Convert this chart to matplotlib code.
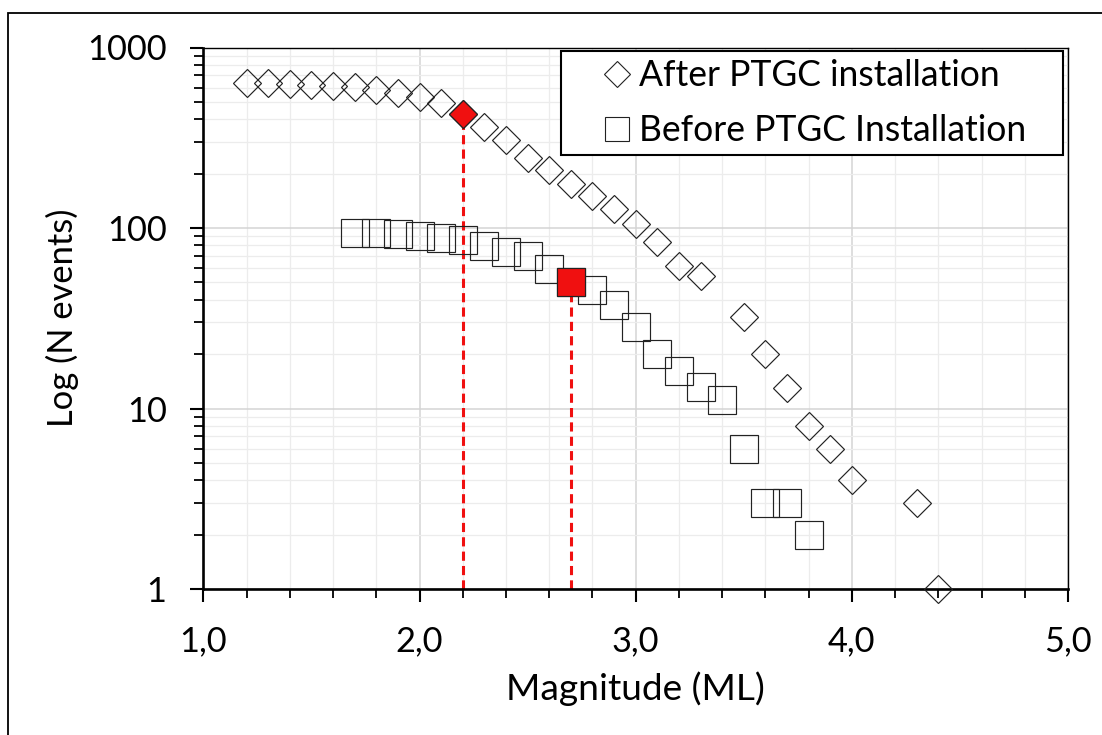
import matplotlib
matplotlib.use("Agg")
import matplotlib.pyplot as plt
from matplotlib.lines import Line2D
from matplotlib.patches import Rectangle
from matplotlib.ticker import MultipleLocator, LogLocator, FuncFormatter, NullFormatter, FixedLocator
from matplotlib.textpath import TextPath
from matplotlib.font_manager import FontProperties

# ---------------- data ----------------
after_mag = [1.2, 1.3, 1.4, 1.5, 1.6, 1.7, 1.8, 1.9, 2.0, 2.1, 2.2, 2.3, 2.4, 2.5,
             2.6, 2.7, 2.8, 2.9, 3.0, 3.1, 3.2, 3.3, 3.5, 3.6, 3.7, 3.8, 3.9, 4.0,
             4.3, 4.4]
after_n = [635, 632, 627, 621, 613, 601, 583, 563, 533, 490, 430, 365, 306, 245,
           210, 175, 150, 127, 105, 84, 61.5, 54, 32, 20, 13, 8, 6, 4,
           3, 1]

before_mag = [1.7, 1.8, 1.9, 2.0, 2.1, 2.2, 2.3, 2.4, 2.5, 2.6, 2.7, 2.8, 2.9,
              3.0, 3.1, 3.2, 3.3, 3.4, 3.5, 3.6, 3.7, 3.8]
before_n = [93.3, 93.3, 92.9, 90.4, 87.9, 85.7, 79.8, 73.7, 69.7, 59.5, 50.5,
            45.3, 37.3, 28.3, 20, 16.1, 13.1, 11.1, 6, 3, 3, 2]

after_highlight = 2.2     # magnitude of highlighted (red) point, after
before_highlight = 2.7    # magnitude of highlighted (red) point, before

legend_labels = ["After PTGC installation", "Before PTGC Installation"]
x_label = "Magnitude (ML)"
y_label = "Log (N events)"
y_ticks = [1, 10, 100, 1000]

# ---------------- helpers ----------------
FAMILY = "Lato"
def fit(s, px):
    tp = TextPath((0, 0), s, size=100, prop=FontProperties(family=FAMILY))
    w = tp.get_extents().width
    return 100 * px * 0.72 / w

plt.rcParams['font.family'] = [FAMILY, 'DejaVu Sans']
fs_tick = fit("1000", 76)
fs_leg = fit(legend_labels[1], 382)
fs_xlab = fit(x_label, 254)
fs_ylab = fit(y_label, 214)

W, H = 1102, 735
fig = plt.figure(figsize=(W / 100, H / 100), dpi=100)
ax = fig.add_axes([203.4 / W, 1 - 589 / H, (1068 - 203.4) / W, (589 - 47.5) / H])

# figure border (left + top visible)
fig.patches.append(Rectangle((8 / W, -0.1), 1.2, 1 - 13 / H + 0.1,
                             transform=fig.transFigure, fill=False,
                             lw=1.3, edgecolor='black', zorder=0))

ax.set_xlim(1.0, 5.0)
ax.set_yscale('log')
ax.set_ylim(1, 1000)

edge = '#222222'
red = '#f01010'

ax.plot(after_mag, after_n, linestyle='none', marker='D', markersize=14.3,
        markerfacecolor='none', markeredgecolor=edge, markeredgewidth=0.85,
        clip_on=False, zorder=3)
ax.plot(before_mag, before_n, linestyle='none', marker='s', markersize=20.6,
        markerfacecolor='none', markeredgecolor=edge, markeredgewidth=0.85,
        clip_on=False, zorder=3)

ia = after_mag.index(after_highlight)
ib = before_mag.index(before_highlight)
ax.vlines([after_mag[ia], before_mag[ib]], 1, [after_n[ia], before_n[ib]],
          colors=red, linewidth=2.2, linestyles=[(0, (3.0, 1.7))], zorder=2.5)
ax.plot([after_mag[ia]], [after_n[ia]], linestyle='none', marker='D',
        markersize=14.3, markerfacecolor=red, markeredgecolor=edge,
        markeredgewidth=0.85, zorder=4)
ax.plot([before_mag[ib]], [before_n[ib]], linestyle='none', marker='s',
        markersize=20.6, markerfacecolor=red, markeredgecolor=edge,
        markeredgewidth=0.85, zorder=4)

# axes / ticks
ax.xaxis.set_major_locator(MultipleLocator(1.0))
ax.xaxis.set_minor_locator(MultipleLocator(0.2))
ax.xaxis.set_major_formatter(FuncFormatter(lambda v, p: f"{v:.1f}".replace('.', ',')))
ax.yaxis.set_major_locator(FixedLocator(y_ticks))
ax.yaxis.set_minor_locator(LogLocator(base=10, subs=range(2, 10)))
ax.yaxis.set_major_formatter(FuncFormatter(lambda v, p: f"{int(round(v))}"))
ax.yaxis.set_minor_formatter(NullFormatter())

ax.tick_params(which='major', direction='out', length=9.4, width=1.5,
               pad=17, labelsize=fs_tick, colors='black')
ax.tick_params(which='minor', direction='out', length=6.5, width=1.3)

ax.grid(which='major', color='#d4d4d4', linewidth=1.1)
ax.grid(which='minor', color='#ececec', linewidth=0.9)
ax.set_axisbelow(True)

for s in ['left', 'bottom']:
    ax.spines[s].set_linewidth(1.9)
for s in ['top', 'right']:
    ax.spines[s].set_linewidth(1.0)

ax.set_xlabel(x_label, fontsize=fs_xlab, labelpad=10)
ax.set_ylabel(y_label, fontsize=fs_ylab, labelpad=6)

# legend
handles = [
    Line2D([], [], linestyle='none', marker='D', markersize=13.2,
           markerfacecolor='none', markeredgecolor=edge, markeredgewidth=0.8),
    Line2D([], [], linestyle='none', marker='s', markersize=16.8,
           markerfacecolor='none', markeredgecolor=edge, markeredgewidth=0.8),
]
x0 = (561 - 203.4) / (1068 - 203.4)
x1 = (1063 - 203.4) / (1068 - 203.4)
yt = (589 - 51) / (589 - 47.5)
yb = (589 - 158) / (589 - 47.5)
fs_px = fs_leg * 100 / 72
leg = ax.legend(handles, legend_labels, loc='upper left',
                bbox_to_anchor=(x0, yb, x1 - x0, yt - yb), mode='expand',
                borderaxespad=0, fontsize=fs_leg, frameon=True, fancybox=False,
                edgecolor='black', framealpha=1, borderpad=0.23,
                labelspacing=0.62, handlelength=95.5 / fs_px,
                handletextpad=-0.72, handleheight=0.7)
leg.get_frame().set_linewidth(1.5)
leg.set_zorder(5)

fig.savefig("out.png", dpi=100)
